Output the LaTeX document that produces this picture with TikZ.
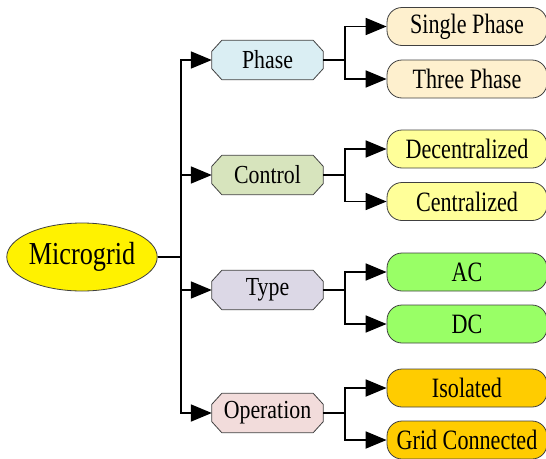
\documentclass[tikz,border=0pt]{standalone}
\usepackage{fontspec}
\setmainfont{Liberation Serif}
\usetikzlibrary{arrows.meta,shapes.geometric,calc,backgrounds}
\definecolor{cphase}{HTML}{DAEEF3}
\definecolor{ccontrol}{HTML}{D7E4BD}
\definecolor{ctype}{HTML}{DCD8E6}
\definecolor{coper}{HTML}{F2DCDB}
\definecolor{lphase}{HTML}{FEF0CE}
\definecolor{lcontrol}{HTML}{FFFF99}
\definecolor{ltype}{HTML}{99FF66}
\definecolor{loper}{HTML}{FFCC00}
\definecolor{bord}{HTML}{404040}
\newcommand{\lbl}[1]{\scalebox{0.79}[1]{#1}}
\newcommand{\clbl}[1]{\scalebox{0.84}[1]{#1}}
\newcommand{\octo}[2]{%
  \begin{scope}[on background layer]
  \filldraw[draw=bord, line width=0.8pt, fill=#2]
    ($(#1.north west)+(10,0)$) -- ($(#1.north east)+(-10,0)$) -- ($(#1.north east)+(0,11)$)
    -- ($(#1.south east)+(0,-11)$) -- ($(#1.south east)+(-10,0)$) -- ($(#1.south west)+(10,0)$)
    -- ($(#1.south west)+(0,-11)$) -- ($(#1.north west)+(0,11)$) -- cycle;
  \end{scope}}
\tikzset{
  root/.style={ellipse, draw=bord, line width=0.8pt, fill=yellow, minimum width=150pt, minimum height=68pt, inner sep=0pt, font=\fontsize{32}{32}\selectfont},
  cat/.style={rectangle, minimum width=111pt, minimum height=39pt, inner sep=0pt, font=\fontsize{26}{26}\selectfont},
  leaf/.style={rounded corners=15pt, draw=bord, line width=0.8pt, minimum width=160pt, minimum height=38pt, inner sep=0pt, font=\fontsize{28}{28}\selectfont},
  conn/.style={line width=1.8pt, black},
  arr/.style={conn, -{Triangle[length=21pt,width=17pt]}}
}
\begin{document}
\begin{tikzpicture}[x=1pt,y=-1pt]
\useasboundingbox (0,0) rectangle (546,458);
\node[root] (mg) at (82,257) {\scalebox{0.82}[1]{Microgrid}};
\node[cat] (phase) at (267.5,60) {\clbl{Phase}};
\node[cat] (control) at (267.5,175) {\clbl{Control}};
\node[cat] (type) at (267.5,290) {\clbl{Type}};
\node[cat] (oper) at (267.5,413) {\clbl{Operation}};
\octo{phase}{cphase}
\octo{control}{ccontrol}
\octo{type}{ctype}
\octo{oper}{coper}
\node[leaf, fill=lphase] (sp) at (467,26.5) {\lbl{Single Phase}};
\node[leaf, fill=lphase] (tp) at (467,79) {\lbl{Three Phase}};
\node[leaf, fill=lcontrol] (dec) at (467,149) {\lbl{Decentralized}};
\node[leaf, fill=lcontrol] (cen) at (467,201.5) {\lbl{Centralized}};
\node[leaf, fill=ltype] (ac) at (467,272) {\lbl{AC}};
\node[leaf, fill=ltype] (dc) at (467,324) {\lbl{DC}};
\node[leaf, fill=loper] (iso) at (467,388) {\lbl{Isolated}};
\node[leaf, fill=loper] (grid) at (467,440) {\lbl{Grid Connected}};
\foreach \c in {phase,control,type,oper}
  \draw[arr] (mg.east) -- ++(23,0) |- (\c.west);
\foreach \p/\a/\b in {phase/sp/tp, control/dec/cen, type/ac/dc, oper/iso/grid}{
  \draw[arr] (\p.east) -- ++(22,0) |- (\a.west);
  \draw[arr] (\p.east) -- ++(22,0) |- (\b.west);
}
\end{tikzpicture}
\end{document}
